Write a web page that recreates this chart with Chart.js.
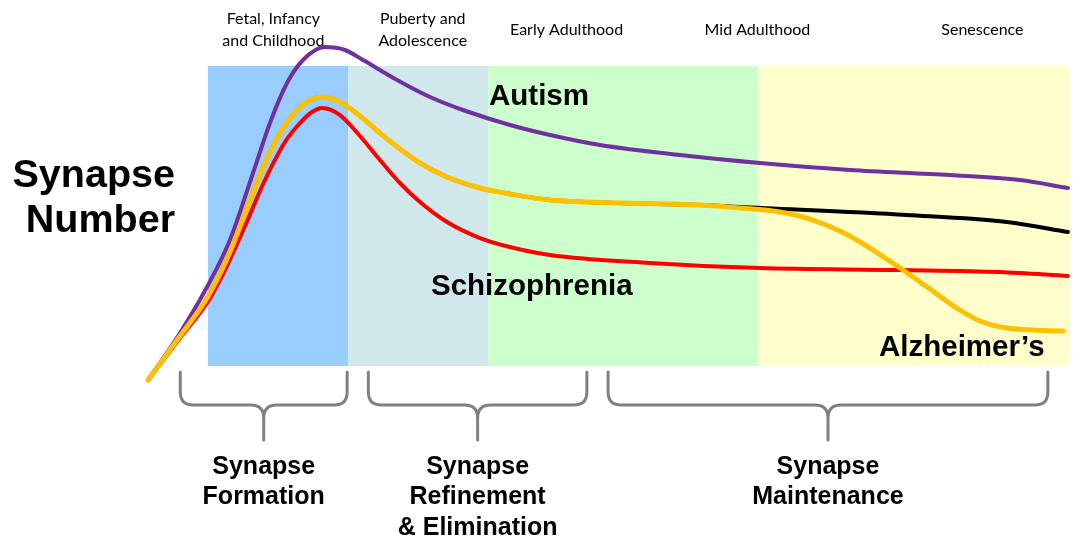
<!DOCTYPE html>
<html>
<head>
<meta charset="utf-8">
<script src="https://cdn.jsdelivr.net/npm/chart.js@4.4.1/dist/chart.umd.min.js"></script>
<style>
  body { margin: 0; background: #fff; }
  #wrap { width: 1092px; height: 552px; }
</style>
</head>
<body>
<div id="wrap"><canvas id="synapseChart"></canvas></div>
<script>
// lifespan on x (0-100), relative synapse number on y (0-100)

const ageNormal = [0, 3.47, 6.40, 8.89, 11.06, 12.69, 14.32, 16.16, 17.57, 18.87, 20.82, 22.99, 25.16, 27.33, 29.50, 32.43, 36.01, 39.26, 43.60, 51.19, 59.87, 64.21, 82.32, 93.17, 99.78];
const normal    = [0, 12.94, 24.12, 37.65, 52.94, 63.82, 72.65, 79.41, 82.35, 83.24, 81.76, 77.65, 72.65, 67.94, 63.82, 59.71, 56.47, 54.71, 52.94, 52.06, 51.47, 50.88, 48.53, 46.47, 43.53];

const ageAlz = [0, 3.47, 6.40, 8.89, 11.06, 12.69, 14.32, 16.16, 17.57, 18.87, 20.82, 22.99, 25.16, 27.33, 29.50, 32.43, 36.01, 39.26, 43.60, 51.19, 59.87, 64.21, 68.55, 71.80, 75.05, 78.31, 81.56, 84.82, 87.53, 90.24, 93.17, 99.24];
const alzheimers = [0, 12.94, 24.12, 37.65, 52.94, 63.82, 72.65, 79.41, 82.35, 83.24, 81.76, 77.65, 72.65, 67.94, 63.82, 59.71, 56.47, 54.71, 52.94, 52.06, 51.47, 50.59, 49.41, 47.35, 43.82, 38.82, 32.94, 26.76, 21.47, 17.35, 15.29, 14.41];

const ageScz = [0, 3.47, 6.40, 8.35, 10.52, 12.69, 14.86, 16.49, 17.79, 18.87, 20.82, 22.99, 25.16, 27.33, 29.50, 32.43, 36.01, 39.26, 43.60, 54.45, 66.38, 81.56, 92.41, 99.78];
const schizophrenia = [0, 12.35, 22.65, 32.35, 45.29, 58.82, 70.0, 75.59, 78.82, 80.0, 77.94, 71.76, 64.71, 57.94, 52.35, 46.47, 41.76, 39.12, 36.76, 34.41, 32.94, 32.35, 31.76, 30.59];

const ageAut = [0, 3.47, 6.40, 8.89, 11.39, 13.23, 15.08, 16.81, 19.20, 21.37, 23.32, 27.01, 30.59, 34.16, 39.26, 43.60, 49.02, 57.70, 66.38, 76.14, 86.98, 94.58, 99.78];
const autism = [0, 13.82, 27.35, 41.18, 60.88, 75.59, 87.35, 94.12, 97.94, 97.06, 94.12, 88.24, 83.24, 79.41, 75.0, 72.06, 69.12, 66.18, 63.82, 61.76, 60.29, 58.82, 56.47];

// life stages (shaded bands)
const stageEdges = [6.5, 21.7, 36.9, 66.2, 100];
const stageColors = ['#99CCFF', '#D0E8EC', '#CCFFCC', '#FFFFCC'];
const stageNames = [['Fetal, Infancy', 'and Childhood'], ['Puberty and', 'Adolescence'], ['Early Adulthood'], ['Mid Adulthood'], ['Senescence']];
const stageNameX = [13.6, 29.8, 45.4, 66.1, 90.5];

// synapse phases (braces underneath)
const phaseStart = [3.5, 23.9, 49.9];
const phaseEnd   = [21.6, 47.6, 97.6];
const phaseNames = [['Synapse', 'Formation'], ['Synapse', 'Refinement', '& Elimination'], ['Synapse', 'Maintenance']];

function pts(xs, ys) {
  return xs.map((x, i) => ({ x: x, y: ys[i] }));
}

const sans = '"Liberation Sans", Arial, sans-serif';

const decorPlugin = {
  id: 'decor',
  beforeDatasetsDraw(chart) {
    const { ctx, scales: { x, y } } = chart;
    const top = y.getPixelForValue(92.4);
    const bottom = y.getPixelForValue(4.1);
    ctx.save();
    for (let i = 0; i < stageColors.length; i++) {
      const x0 = x.getPixelForValue(stageEdges[i]);
      const x1 = x.getPixelForValue(stageEdges[i + 1]);
      ctx.fillStyle = stageColors[i];
      ctx.fillRect(x0, top, x1 - x0, bottom - top);
    }
    ctx.restore();
  },
  afterDraw(chart) {
    const { ctx, chartArea, scales: { x, y } } = chart;
    ctx.save();

    // stage names on top
    ctx.fillStyle = '#000';
    ctx.font = '16px Lato, "Open Sans", sans-serif';
    ctx.textAlign = 'center';
    ctx.textBaseline = 'middle';
    stageNames.forEach((lines, i) => {
      const cx = x.getPixelForValue(stageNameX[i]);
      if (lines.length === 1) {
        ctx.fillText(lines[0], cx, 30);
      } else {
        ctx.fillText(lines[0], cx, 19);
        ctx.fillText(lines[1], cx, 41);
      }
    });

    // y title
    ctx.font = 'bold 39.5px ' + sans;
    ctx.textAlign = 'right';
    ctx.fillText('Synapse', 175, 176);
    ctx.fillText('Number', 175, 221);

    // curve labels
    ctx.textAlign = 'left';
    ctx.font = 'bold 29.5px ' + sans;
    ctx.fillText('Autism', 489, 97);
    ctx.fillText('Schizophrenia', 431, 287);
    ctx.fillText("Alzheimer\u2019s", 879, 348);

    // braces
    const bTop = chartArea.bottom - 8;
    const bMid = chartArea.bottom + 25;
    const bTip = chartArea.bottom + 60;
    const r = 13;
    ctx.strokeStyle = '#808080';
    ctx.lineWidth = 3;
    ctx.lineCap = 'round';
    ctx.lineJoin = 'round';
    for (let i = 0; i < phaseStart.length; i++) {
      const x0 = x.getPixelForValue(phaseStart[i]);
      const x1 = x.getPixelForValue(phaseEnd[i]);
      const cx = (x0 + x1) / 2;
      ctx.beginPath();
      ctx.moveTo(x0, bTop);
      ctx.lineTo(x0, bMid - r);
      ctx.quadraticCurveTo(x0, bMid, x0 + r, bMid);
      ctx.lineTo(cx - r, bMid);
      ctx.quadraticCurveTo(cx, bMid, cx, bMid + r);
      ctx.lineTo(cx, bTip);
      ctx.moveTo(x1, bTop);
      ctx.lineTo(x1, bMid - r);
      ctx.quadraticCurveTo(x1, bMid, x1 - r, bMid);
      ctx.lineTo(cx + r, bMid);
      ctx.quadraticCurveTo(cx, bMid, cx, bMid + r);
      ctx.stroke();

      ctx.fillStyle = '#000';
      ctx.font = 'bold 25px ' + sans;
      ctx.textAlign = 'center';
      phaseNames[i].forEach((t, j) => {
        ctx.fillText(t, cx, 467 + j * 30.5);
      });
    }
    ctx.restore();
  }
};

const ctx = document.getElementById('synapseChart').getContext('2d');
const synapseChart = new Chart(ctx, {
  type: 'scatter',
  data: {
    datasets: [
      { label: "Alzheimer's", data: pts(ageAlz, alzheimers), borderColor: '#FFC000', borderWidth: 5 },
      { label: 'Schizophrenia', data: pts(ageScz, schizophrenia), borderColor: '#FF0000', borderWidth: 4 },
      { label: 'Autism', data: pts(ageAut, autism), borderColor: '#7030A0', borderWidth: 4 },
      { label: 'Normal', data: pts(ageNormal, normal), borderColor: '#000000', borderWidth: 4 }
    ].map(d => Object.assign(d, {
      showLine: true,
      pointRadius: 0,
      pointHoverRadius: 0,
      cubicInterpolationMode: 'monotone',
      borderCapStyle: 'round',
      borderJoinStyle: 'round',
      fill: false,
      clip: false
    }))
  },
  options: {
    responsive: true,
    maintainAspectRatio: false,
    animation: false,
    events: [],
    layout: { padding: { left: 148, right: 22, top: 40, bottom: 172 } },
    scales: {
      x: { type: 'linear', min: 0, max: 100, display: false },
      y: { type: 'linear', min: 0, max: 100, display: false }
    },
    plugins: {
      legend: { display: false },
      tooltip: { enabled: false }
    }
  },
  plugins: [decorPlugin]
});
</script>
</body>
</html>
